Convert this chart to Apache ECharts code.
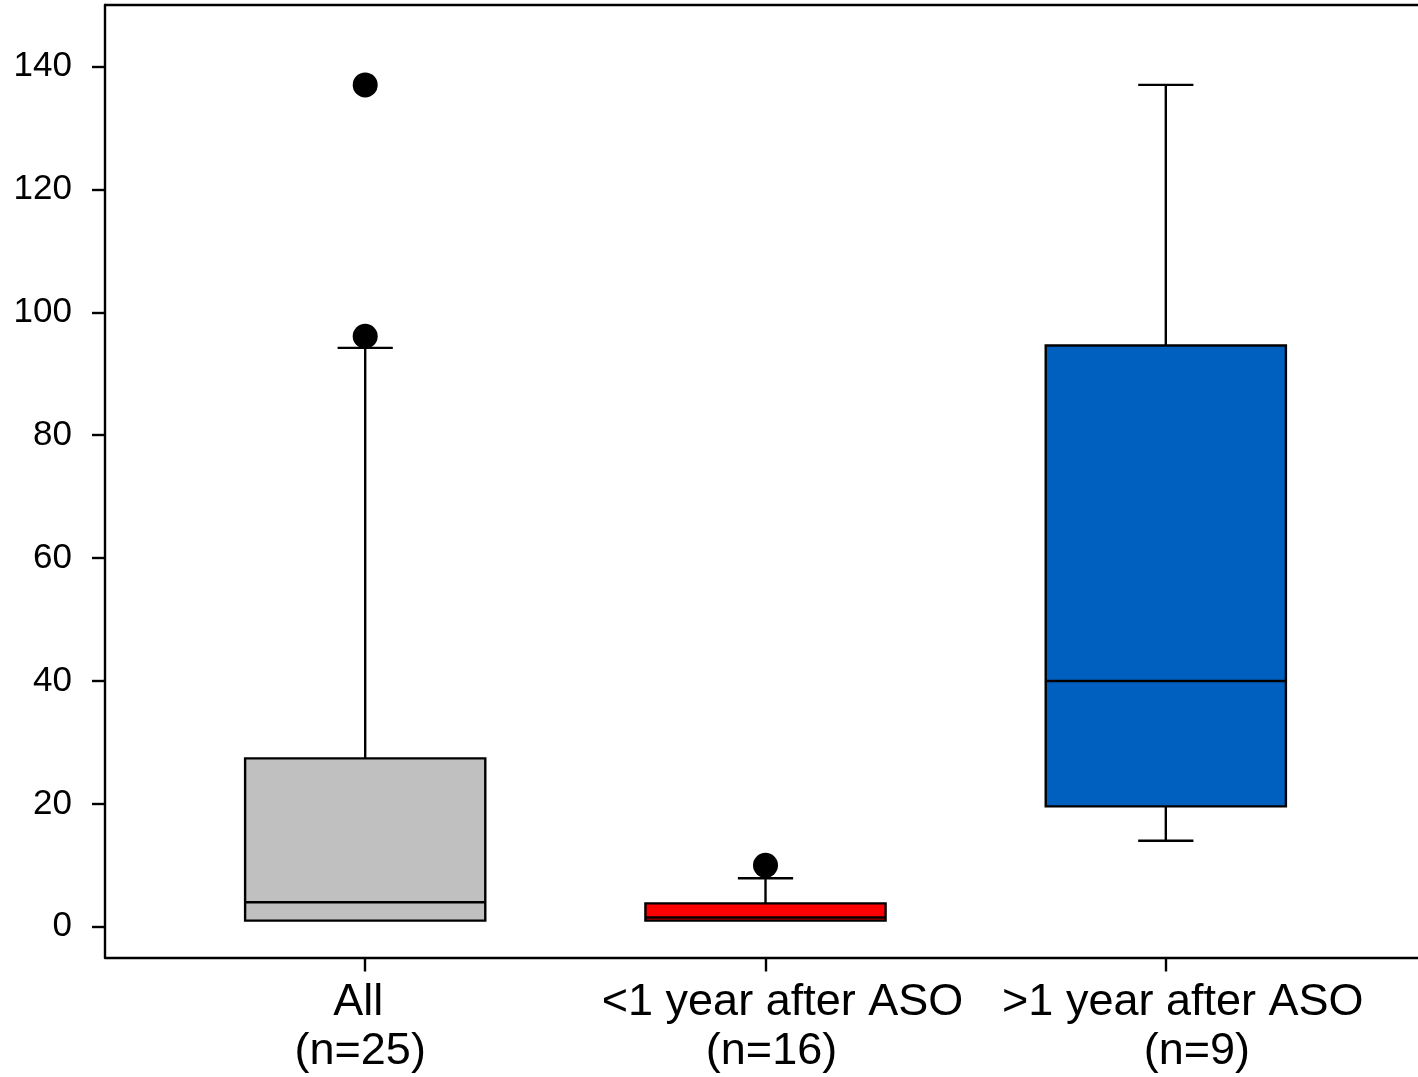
<!DOCTYPE html>
<html>
<head>
<meta charset="utf-8">
<script src="https://cdn.jsdelivr.net/npm/echarts@6/dist/echarts.min.js"></script>
<style>
html,body{margin:0;padding:0;background:#fff;}
#chart{width:1418px;height:1077px;}
</style>
</head>
<body>
<div id="chart"></div>
<script>
// ---- data ----
const categories = ['All', '<1 year after ASO', '>1 year after ASO'];
const counts = ['(n=25)', '(n=16)', '(n=9)'];
const positions = [1, 2, 3];
const whiskerLow = [1, 1, 14];
const q1 = [1, 1, 19.6];
const median = [4, 1.5, 40];
const q3 = [27.4, 3.8, 94.6];
const whiskerHigh = [94.2, 7.9, 137];
const outliersAll = [96.1, 137];
const outliersLess = [10];
const outliersMore = [];
const boxColors = ['#C0C0C0', '#FF0000', '#0060C0'];
const yTicks = [0, 20, 40, 60, 80, 100, 120, 140];

// ---- build series data ----
const boxData = positions.map((p, i) => [p, whiskerLow[i], q1[i], median[i], q3[i], whiskerHigh[i], i]);
const outlierData = [];
[outliersAll, outliersLess, outliersMore].forEach((arr, i) => {
  arr.forEach(v => outlierData.push([positions[i], v]));
});

const BOX_HALF = 0.3;
const CAP_HALF = 0.069;
const LW = 2.4;

function renderBox(params, api) {
  const x = api.value(0);
  const lo = api.value(1), b1 = api.value(2), md = api.value(3), b3 = api.value(4), hi = api.value(5);
  const idx = api.value(6);
  const c = api.coord([x, 0])[0];
  const bw = api.size([BOX_HALF, 0])[0];
  const cw = api.size([CAP_HALF, 0])[0];
  const yLo = api.coord([x, lo])[1], y1 = api.coord([x, b1])[1], yM = api.coord([x, md])[1];
  const y3 = api.coord([x, b3])[1], yHi = api.coord([x, hi])[1];
  const ls = {stroke: '#000', lineWidth: LW, fill: null};
  const children = [];
  children.push({type: 'line', shape: {x1: c, y1: y3, x2: c, y2: yHi}, style: ls});
  children.push({type: 'line', shape: {x1: c - cw, y1: yHi, x2: c + cw, y2: yHi}, style: ls});
  if (lo < b1) {
    children.push({type: 'line', shape: {x1: c, y1: y1, x2: c, y2: yLo}, style: ls});
    children.push({type: 'line', shape: {x1: c - cw, y1: yLo, x2: c + cw, y2: yLo}, style: ls});
  }
  children.push({type: 'rect', shape: {x: c - bw, y: y3, width: 2 * bw, height: y1 - y3},
    style: {fill: boxColors[idx], stroke: '#000', lineWidth: LW}});
  children.push({type: 'line', shape: {x1: c - bw, y1: yM, x2: c + bw, y2: yM}, style: ls});
  return {type: 'group', children: children};
}

const labelOffsets1 = [-7, 17, 17];
const labelOffsets2 = [-5, 6, 31];
const rich = {};
function padFor(off) {
  return off >= 0 ? [0, 0, 0, 2 * off] : [0, -2 * off, 0, 0];
}
for (let i = 0; i < 3; i++) {
  rich['a' + i] = {fontSize: 45, fontFamily: 'Liberation Sans', color: '#000', lineHeight: 49, padding: padFor(labelOffsets1[i])};
  rich['b' + i] = {fontSize: 45, fontFamily: 'Liberation Sans', color: '#000', lineHeight: 49, padding: padFor(labelOffsets2[i])};
}

const chart = echarts.init(document.getElementById('chart'), null, {renderer: 'canvas'});
chart.setOption({
  animation: false,
  backgroundColor: '#fff',
  grid: {left: 105, right: 0, top: 5, bottom: 119.5, containLabel: false},
  xAxis: [{
    type: 'value', min: 0.35, max: 3.63,
    splitLine: {show: false},
    axisLine: {show: true, onZero: false, lineStyle: {color: '#000', width: 2.4}},
    axisTick: {show: true, inside: false, length: 14, lineStyle: {color: '#000', width: 2.4}, customValues: positions},
    axisLabel: {
      show: true, margin: 21, customValues: positions, hideOverlap: false,
      fontSize: 45, fontFamily: 'Liberation Sans', color: '#000', lineHeight: 49,
      formatter: function (v) {
        const i = positions.indexOf(Math.round(v));
        if (i < 0) return '';
        return '{a' + i + '|' + categories[i] + '}\n{b' + i + '|' + counts[i] + '}';
      },
      rich: rich
    }
  }, {
    type: 'value', position: 'top', min: 0.35, max: 3.63,
    splitLine: {show: false},
    axisLine: {show: true, onZero: false, lineStyle: {color: '#000', width: 2.4}},
    axisTick: {show: false}, axisLabel: {show: false}
  }],
  yAxis: {
    type: 'value', min: -5, max: 150,
    splitLine: {show: false},
    axisLine: {show: true, onZero: false, lineStyle: {color: '#000', width: 2.4}},
    axisTick: {show: true, inside: false, length: 13, lineStyle: {color: '#000', width: 2.4}, customValues: yTicks},
    axisLabel: {show: true, margin: 33, customValues: yTicks, hideOverlap: false, fontSize: 35, fontFamily: 'Liberation Sans', color: '#000'}
  },
  series: [{
    type: 'custom',
    renderItem: renderBox,
    data: boxData,
    encode: {x: 0, y: [1, 2, 3, 4, 5]},
    clip: false,
    z: 2
  }, {
    type: 'scatter',
    data: outlierData,
    symbol: 'circle',
    symbolSize: 25,
    itemStyle: {color: '#000', opacity: 1},
    emphasis: {disabled: true},
    z: 3
  }]
});
</script>
</body>
</html>
